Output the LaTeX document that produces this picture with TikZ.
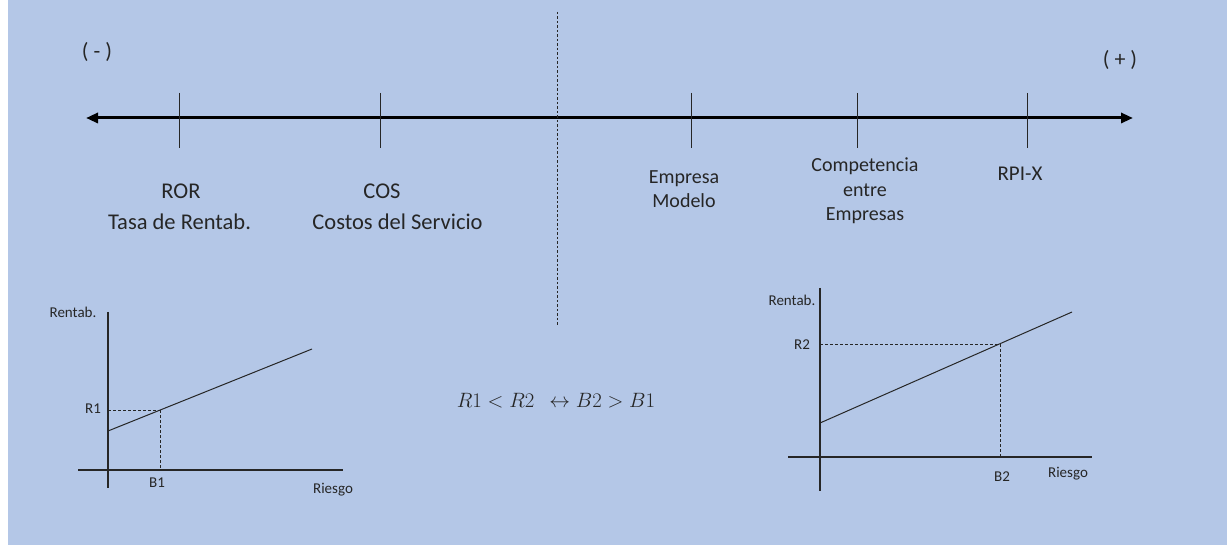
\documentclass[tikz,border=0pt]{standalone}
\usepackage{fontspec}
\setmainfont{Carlito}
\usetikzlibrary{arrows.meta}
\definecolor{bgblue}{HTML}{B4C7E7}
\definecolor{ink}{HTML}{262626}
\tikzset{
  lbl/.style={inner sep=0pt, text=ink, font=\fontsize{22.5}{27}\selectfont, align=center},
  mlbl/.style={inner sep=0pt, text=ink, font=\fontsize{20}{24.5}\selectfont, align=center},
  slbl/.style={inner sep=0pt, text=ink, font=\fontsize{15}{18}\selectfont},
  tick/.style={draw=ink, line width=1pt},
  axis/.style={draw=ink, line width=1.1pt},
  guide/.style={draw=ink, line width=0.8pt, dash pattern=on 3pt off 2pt},
  curve/.style={draw=ink, line width=1pt},
}
\begin{document}
\begin{tikzpicture}[x=1pt,y=-1pt]
\useasboundingbox (0,0) rectangle (1227,545);
\fill[bgblue] (0,0) rectangle (1227,545);
\fill[white] (0,0) rectangle (8,545);

% main axis
\coordinate (La) at (86,118);
\coordinate (Ra) at (1133,118);
\draw[line width=3pt, black, {Triangle[length=12pt,width=10pt]}-{Triangle[length=12pt,width=10pt]}] (La) -- (Ra);

% ticks
\foreach \n/\x in {t1/179,t2/380,t3/691,t4/857,t5/1027}{
  \coordinate (\n a) at (\x,93);
  \coordinate (\n b) at (\x,148);
  \draw[tick] (\n a) -- (\n b);
}

% dashed divider
\coordinate (Da) at (557,12);
\coordinate (Db) at (557,325);
\draw[guide, dash pattern=on 2.5pt off 2pt] (Da) -- (Db);

% signs
\node[lbl, font=\fontsize{22}{26}\selectfont] (minus) at (97,52) {( - )};
\node[lbl, font=\fontsize{22}{26}\selectfont] (plus) at (1120,60) {( + )};

% labels
\node[lbl] (ror) at (181,191) {ROR};
\node[lbl] (tasa) at (179.5,222) {Tasa de Rentab.};
\node[lbl] (cos) at (382,191) {COS};
\node[lbl] (costos) at (397.5,222) {Costos del Servicio};
\node[mlbl] (emp) at (684,189) {Empresa\\Modelo};
\node[mlbl] (comp) at (865,191) {Competencia\\entre\\Empresas};
\node[mlbl, font=\fontsize{21}{25}\selectfont] (rpi) at (1020,174) {RPI-X};

% equation
\node[inner sep=0pt, text=ink, font=\fontsize{22.5}{26}\selectfont] (eq) at (556,401) {$R1 < R2\;\, \leftrightarrow B2 > B1$};

% left chart
\coordinate (Ly1) at (108,312);
\coordinate (Ly2) at (108,488);
\coordinate (Lx1) at (78,470);
\coordinate (Lx2) at (343,470);
\coordinate (Ll1) at (108,431);
\coordinate (Ll2) at (312,349);
\coordinate (P1) at (160,410);
\coordinate (P1y) at (108,410);
\coordinate (P1x) at (160,470);
\draw[axis] (Ly1) -- (Ly2);
\draw[axis] (Lx1) -- (Lx2);
\draw[curve] (Ll1) -- (Ll2);
\draw[guide] (P1y) -- (P1);
\draw[guide] (P1) -- (P1x);
\node[slbl] (lrent) at (73,312) {Rentab.};
\node[slbl] (r1) at (93,409) {R1};
\node[slbl] (b1) at (157,483) {B1};
\node[slbl] (lries) at (333,490) {Riesgo};

% right chart
\coordinate (Ry1) at (820,288);
\coordinate (Ry2) at (820,491);
\coordinate (Rx1) at (788,457);
\coordinate (Rx2) at (1092,457);
\coordinate (Rl1) at (820,423);
\coordinate (Rl2) at (1072,312);
\coordinate (P2) at (1000,344);
\coordinate (P2y) at (820,344);
\coordinate (P2x) at (1000,457);
\draw[axis] (Ry1) -- (Ry2);
\draw[axis] (Rx1) -- (Rx2);
\draw[curve] (Rl1) -- (Rl2);
\draw[guide] (P2y) -- (P2);
\draw[guide] (P2) -- (P2x);
\node[slbl] (rrent) at (792,300) {Rentab.};
\node[slbl] (r2) at (802,345) {R2};
\node[slbl] (b2) at (1002,477) {B2};
\node[slbl] (rries) at (1068,474) {Riesgo};
\end{tikzpicture}
\end{document}
